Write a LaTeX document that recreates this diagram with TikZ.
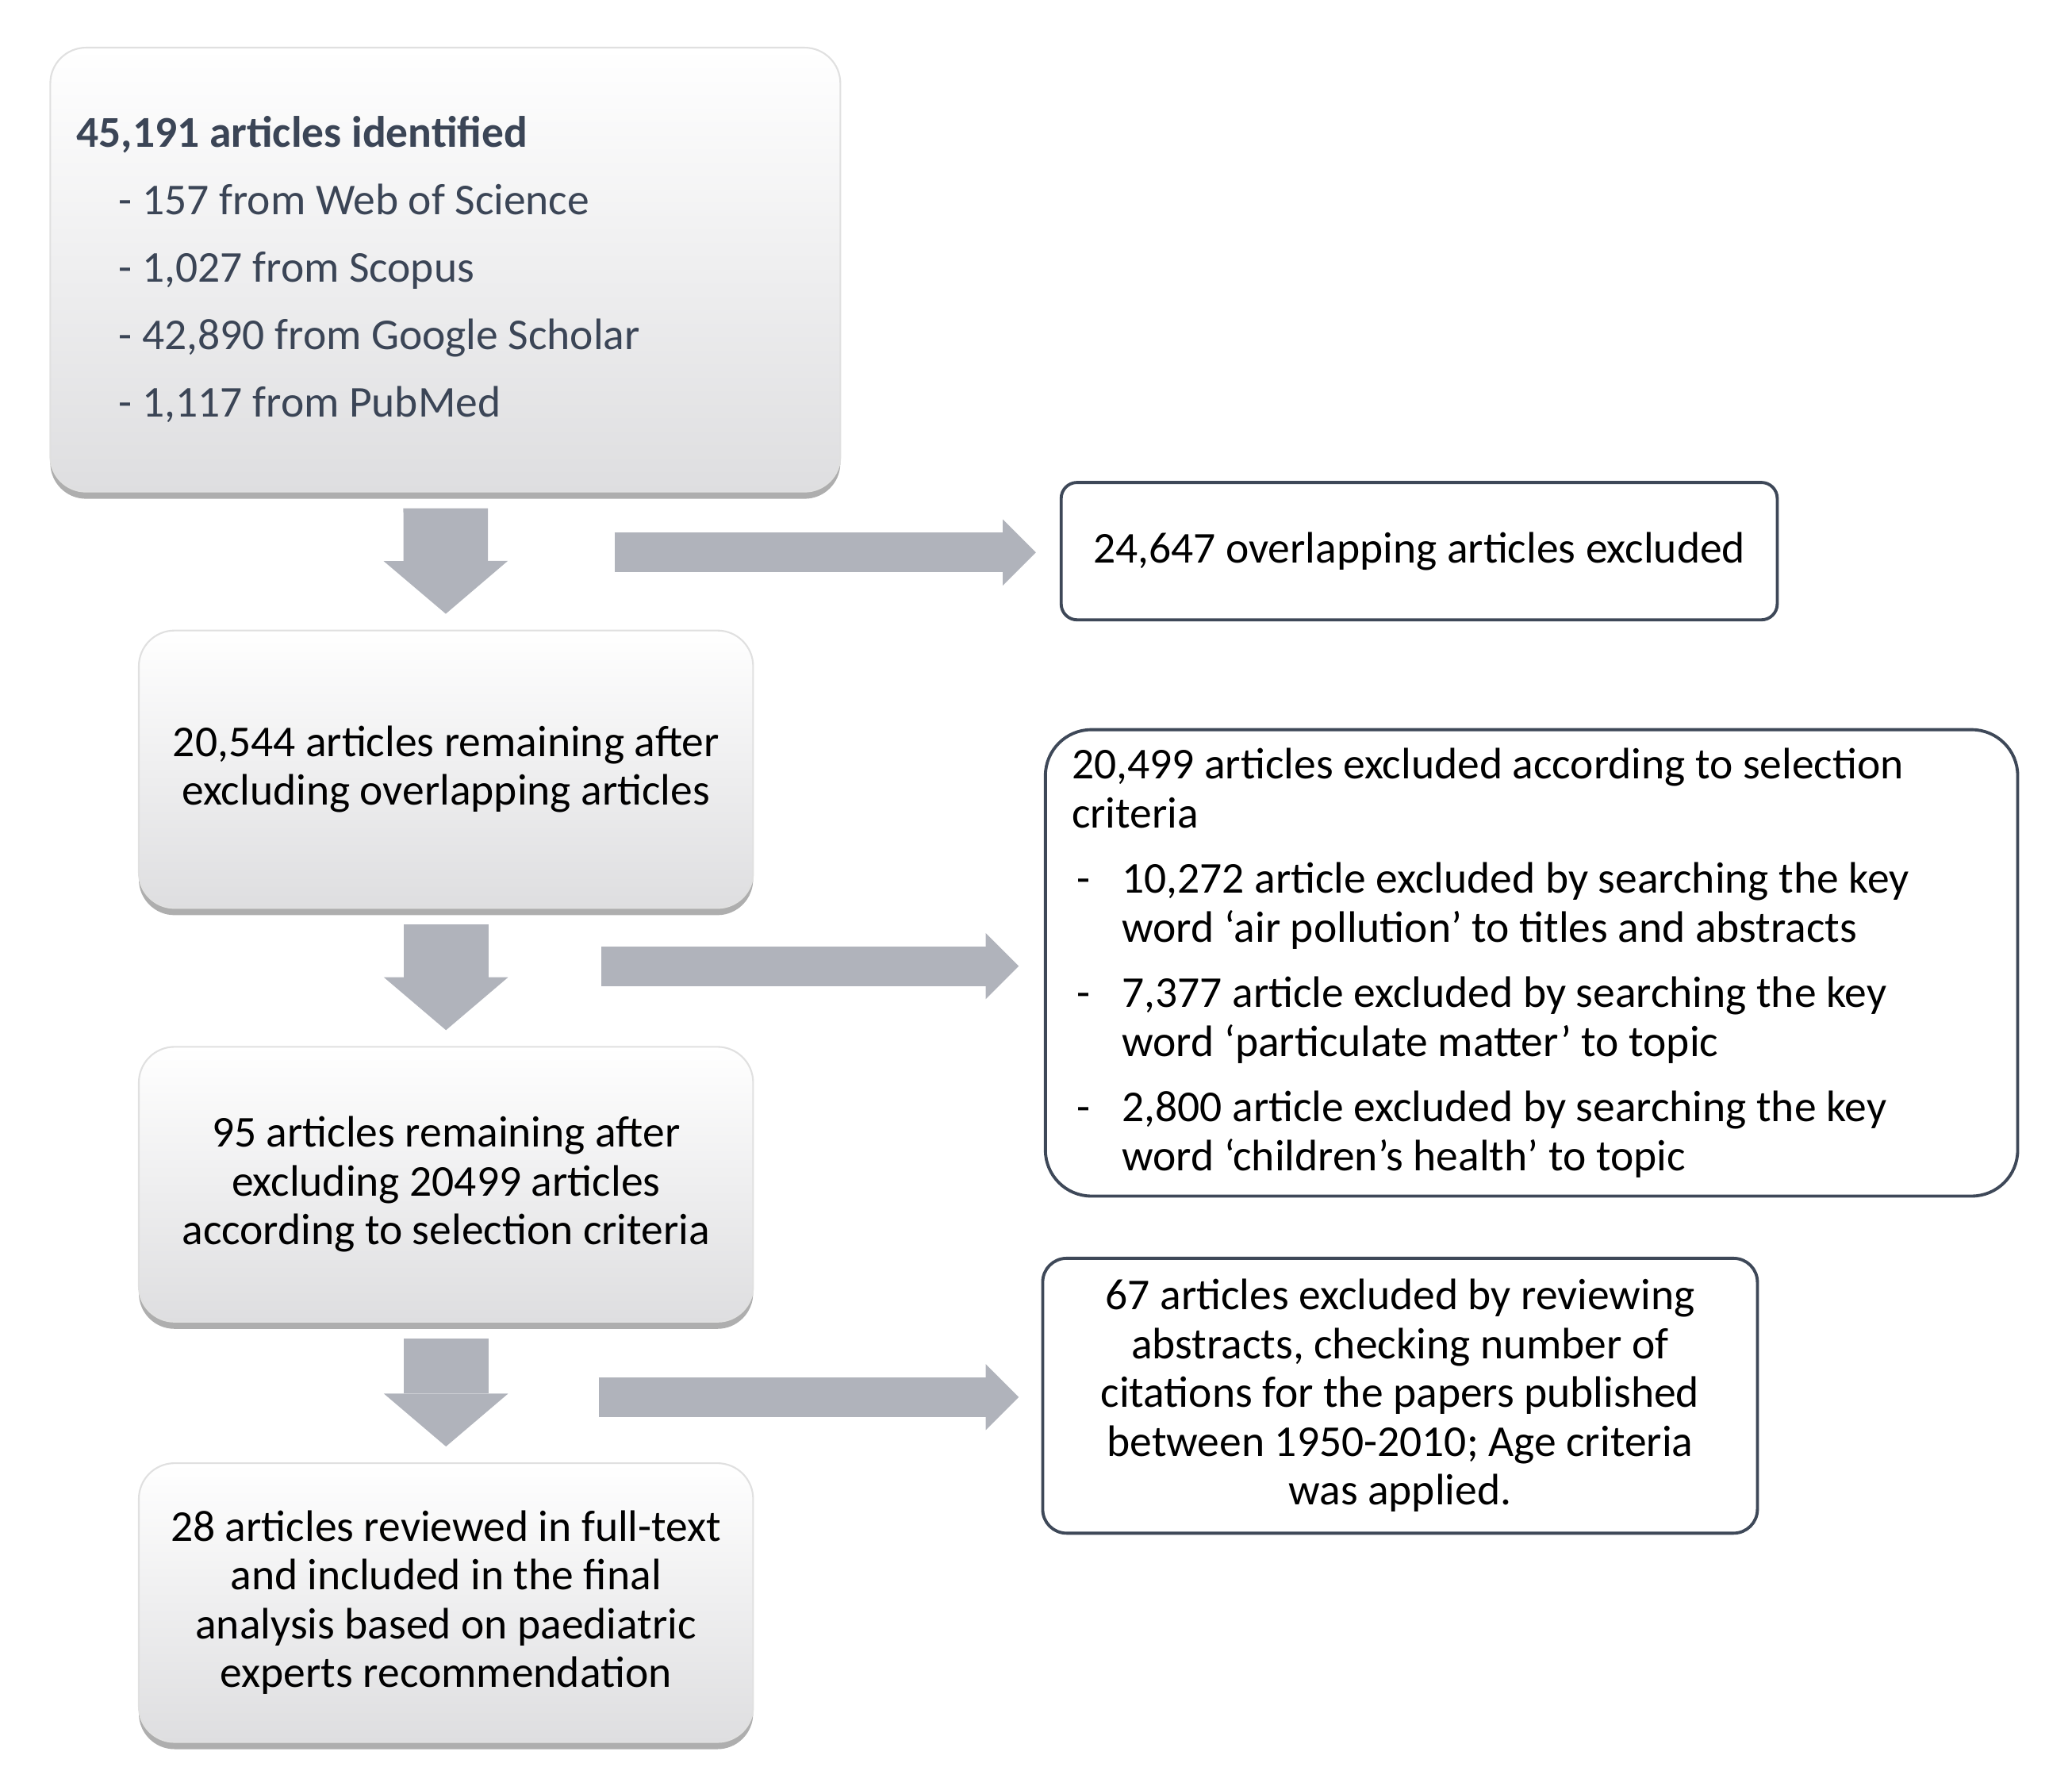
\documentclass[tikz,border=0pt]{standalone}
\usepackage{fontspec}
\setmainfont{Carlito}
\usetikzlibrary{arrows.meta,shadows}
\definecolor{slate}{RGB}{59,69,86}
\definecolor{boxline}{RGB}{62,72,88}
\definecolor{arrowgray}{RGB}{176,179,187}
\definecolor{boxbottom}{RGB}{222,222,224}
\tikzset{
  leftbox/.style={rounded corners=0.45cm,top color=white,bottom color=boxbottom,draw=black!12,line width=0.6pt,
    drop shadow={shadow xshift=0pt,shadow yshift=-0.09cm,opacity=0.45,fill=black!70},
    minimum width=7.746cm,align=center,font=\fontsize{15.8}{17.5}\selectfont},
  sidebox/.style={rounded corners=#1,draw=boxline,line width=1.1pt,fill=white,
    font=\fontsize{15.8}{17.5}\selectfont},
  downarrow/.style={draw=arrowgray,line width=1.066cm,
    -{Triangle[width=1.566cm,length=0.666cm,line width=0pt]},
    shorten <=0.2cm,shorten >=0.2cm},
  sidearrow/.style={draw=arrowgray,line width=0.5cm,
    -{Triangle[width=0.833cm,length=0.416cm,line width=0pt]}}
}
\begin{document}
\begin{tikzpicture}[x=0.016658cm,y=-0.016658cm,line join=round]
  \useasboundingbox (0,0) rectangle (1568,1354);
  \node[leftbox,minimum width=9.962cm,minimum height=5.597cm,text width=9.296cm,
    align=left,text=slate,font=\fontsize{15.8}{24.2}\selectfont] (found) at (337,204)
    {\spaceskip=0pt\xspaceskip=0pt
     \textbf{45,191 articles identified}\\
     \hspace*{0.533cm}- 157 from Web of Science\\
     \hspace*{0.533cm}- 1,027 from Scopus\\
     \hspace*{0.533cm}- 42,890 from Google Scholar\\
     \hspace*{0.533cm}- 1,117 from PubMed};
  \node[leftbox,minimum height=3.498cm] (remain) at (337.5,582)
    {20,544 articles remaining after\\ excluding overlapping articles};
  \node[leftbox,minimum height=3.465cm] (select) at (337.5,896)
    {95 articles remaining after\\ excluding 20499 articles\\ according to selection criteria};
  \node[leftbox,minimum height=3.515cm] (final) at (337.5,1212.5)
    {28 articles reviewed in full-text\\ and included in the final\\
     analysis based on paediatric\\ experts recommendation};
  \node[sidebox=0.2cm,minimum width=9.029cm,minimum height=1.732cm] (overlap) at (1074,417)
    {24,647 overlapping articles excluded};
  \node[sidebox=0.58cm,minimum width=12.26cm,minimum height=5.88cm,text width=11.594cm,
    inner xsep=0.333cm,inner ysep=0.15cm,align=left] (criteria) at (1159,728.5)
    {\spaceskip=0pt\xspaceskip=0pt
     20,499 articles excluded according to selection\\
     criteria\\[6pt]
     \makebox[0.633cm][l]{\hspace*{0.067cm}-}10,272 article excluded by searching the key\\
     \hspace*{0.633cm}word `air pollution' to titles and abstracts\\[6pt]
     \makebox[0.633cm][l]{\hspace*{0.067cm}-}7,377 article excluded by searching the key\\
     \hspace*{0.633cm}word `particulate matter' to topic\\[6pt]
     \makebox[0.633cm][l]{\hspace*{0.067cm}-}2,800 article excluded by searching the key\\
     \hspace*{0.633cm}word `children's health' to topic};
  \node[sidebox=0.3cm,minimum width=9.012cm,minimum height=3.465cm,align=center] (review) at (1059.5,1056)
    {67 articles excluded by reviewing\\ abstracts, checking number of\\
     citations for the papers published\\ between 1950-2010; Age criteria\\ was applied.};
  \coordinate (s1) at (465,418);
  \coordinate (s2) at (455,731);
  \coordinate (s3) at (453,1057);
  \draw[downarrow] (found) -- (remain);
  \draw[downarrow] (remain) -- (select);
  \draw[downarrow] (select) -- (final);
  \draw[sidearrow,shorten >=0.3cm] (s1) -- (s1 -| overlap.west);
  \draw[sidearrow,shorten >=0.317cm] (s2) -- (s2 -| criteria.west);
  \draw[sidearrow,shorten >=0.283cm] (s3) -- (s3 -| review.west);
\end{tikzpicture}
\end{document}
